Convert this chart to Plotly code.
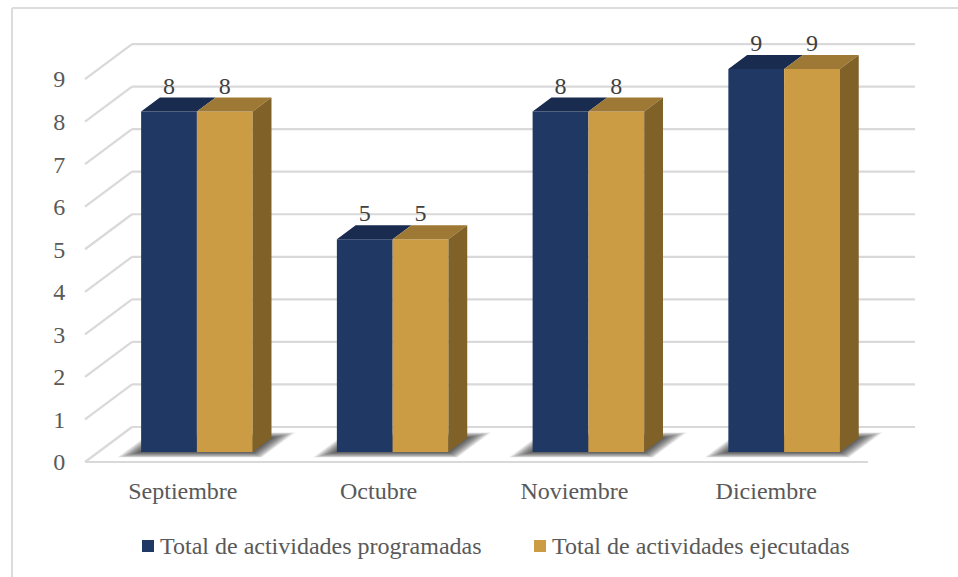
import plotly.graph_objects as go

# data
meses = ["Septiembre", "Octubre", "Noviembre", "Diciembre"]
programadas = [8, 5, 8, 9]
ejecutadas = [8, 5, 8, 9]
y_ticks = [0, 1, 2, 3, 4, 5, 6, 7, 8, 9]
mes_ticks = [0.5, 1.5, 2.5, 3.48]

WIDTH, HEIGHT = 958, 577
FONT = "Liberation Serif"
FONT_SIZE = 24
GRID = "#d9d9d9"
TEXT = "#595959"

# pixels per axis unit, and where the front left floor corner sits
X_UNIT, Y_UNIT = 195.75, 42.55
X0_PX, Y0_PX = 85, 462
PLOT_L, AXIS_PX = 72, 467

# oblique projection: depth 0 = front of the floor, depth 1 = back wall
DEPTH_X = 47 / X_UNIT
DEPTH_Y = 35 / Y_UNIT
BAR_D0, BAR_D1 = 0.286, 0.686
BAR_W = 0.285
BAR_START = 0.218
LABEL_DROP = 2 / Y_UNIT


def proj(x, y, d):
    return x + d * DEPTH_X, y + d * DEPTH_Y


def path(points):
    return "M " + " L ".join(f"{x:.4f},{y:.4f}" for x, y in points) + " Z"


def px_x(px):
    return (px - PLOT_L) / (WIDTH - PLOT_L)


def px_y(px):
    return 1 - px / HEIGHT


n = len(meses)
shapes = []

# chart border, only left and top are drawn in the source
border = dict(type="line", xref="paper", yref="paper", line=dict(color="#dcdcdc", width=2), layer="below")
shapes.append(dict(border, x0=px_x(12), x1=px_x(12), y0=0, y1=px_y(8)))
shapes.append(dict(border, x0=px_x(12), x1=1, y0=px_y(8), y1=px_y(8)))

# gridlines: back wall + side wall + floor front
grid_line = dict(color=GRID, width=2.2)
for t in y_ticks:
    bx0, by0 = proj(0, t, 1)
    bx1, by1 = proj(n, t, 1)
    shapes.append(dict(type="line", x0=bx0, x1=bx1, y0=by0, y1=by1, line=grid_line, layer="below"))
    shapes.append(dict(type="line", x0=0, x1=bx0, y0=t, y1=by0, line=grid_line, layer="below"))
shapes.append(dict(type="line", x0=0, x1=n, y0=0, y1=0, line=grid_line, layer="below"))

# soft shadow on the floor, stacked translucent parallelograms
LAYERS = 24
for i in range(n):
    left = i + BAR_START
    right = left + 2 * BAR_W
    for k in range(LAYERS):
        f = (LAYERS - k) / LAYERS
        g = 0.085 * f
        e = 0.16 * f
        corners = [proj(left - g, 0, BAR_D0 - e), proj(right + g, 0, BAR_D0 - e),
                   proj(right + g, 0, BAR_D1 + e), proj(left - g, 0, BAR_D1 + e)]
        shapes.append(dict(type="path", path=path(corners), fillcolor="rgba(20,20,20,0.045)",
                           line=dict(width=0), layer="below"))

fig = go.Figure()

series = [
    ("Total de actividades programadas", programadas, 0, "#1f3864", "#192b4f", 142),
    ("Total de actividades ejecutadas", ejecutadas, 1, "#cc9c45", "#9e7835", 534),
]

annotations = []

for name, values, pos, front, top, legend_px in series:
    xs = [i + BAR_START + pos * BAR_W + BAR_W / 2 + BAR_D0 * DEPTH_X for i in range(n)]
    fig.add_trace(go.Bar(
        x=xs, y=values, base=BAR_D0 * DEPTH_Y, width=BAR_W, name=name,
        marker=dict(color=front, line=dict(width=0)),
        hoverinfo="y",
    ))

    # top faces of the boxes
    tx, ty = [], []
    for i, v in enumerate(values):
        left = i + BAR_START + pos * BAR_W
        right = left + BAR_W
        for p in [proj(left, v, BAR_D0), proj(right, v, BAR_D0), proj(right, v, BAR_D1), proj(left, v, BAR_D1)]:
            tx.append(p[0])
            ty.append(p[1])
        tx.append(None)
        ty.append(None)
    fig.add_trace(go.Scatter(x=tx, y=ty, mode="lines", fill="toself", fillcolor=top,
                             line=dict(width=0), hoverinfo="skip", showlegend=False))

    # value labels above the top face
    lx = [proj(i + BAR_START + pos * BAR_W + BAR_W / 2, 0, BAR_D0)[0] for i in range(n)]
    ly = [proj(0, v, BAR_D1)[1] - LABEL_DROP for v in values]
    fig.add_trace(go.Scatter(x=lx, y=ly, mode="text", text=[str(v) for v in values],
                             textposition="top center", hoverinfo="skip", showlegend=False,
                             textfont=dict(family=FONT, size=FONT_SIZE, color="#404040")))

    # legend entry: the native one can't get the swatch this close to the text
    shapes.append(dict(type="rect", xref="paper", yref="paper", x0=px_x(legend_px), x1=px_x(legend_px + 12),
                       y0=px_y(552), y1=px_y(540), fillcolor=front, line=dict(width=0), layer="above"))
    annotations.append(dict(text=name, xref="paper", yref="paper", x=px_x(legend_px + 16), y=px_y(546),
                            xanchor="left", yanchor="middle", showarrow=False,
                            font=dict(family=FONT, size=FONT_SIZE, color=TEXT)))

# right side faces (only the second series shows one)
sx, sy = [], []
for i, v in enumerate(ejecutadas):
    right = i + BAR_START + 2 * BAR_W
    for p in [proj(right, 0, BAR_D0), proj(right, v, BAR_D0), proj(right, v, BAR_D1), proj(right, 0, BAR_D1)]:
        sx.append(p[0])
        sy.append(p[1])
    sx.append(None)
    sy.append(None)
fig.add_trace(go.Scatter(x=sx, y=sy, mode="lines", fill="toself", fillcolor="#806229",
                         line=dict(width=0), hoverinfo="skip", showlegend=False))

fig.update_layout(
    width=WIDTH, height=HEIGHT,
    barmode="overlay",
    paper_bgcolor="white", plot_bgcolor="white",
    margin=dict(l=PLOT_L, r=0, t=0, b=0, pad=0),
    font=dict(family=FONT, size=FONT_SIZE, color=TEXT),
    shapes=shapes,
    annotations=annotations,
    showlegend=False,
    xaxis=dict(range=[(PLOT_L - X0_PX) / X_UNIT, (WIDTH - X0_PX) / X_UNIT],
               anchor="free", position=px_y(AXIS_PX),
               tickvals=mes_ticks, ticktext=meses,
               showgrid=False, zeroline=False, showline=False,
               ticks="outside", ticklen=2, tickcolor="rgba(0,0,0,0)",
               tickfont=dict(family=FONT, size=FONT_SIZE, color=TEXT)),
    yaxis=dict(range=[(Y0_PX - HEIGHT) / Y_UNIT, Y0_PX / Y_UNIT],
               tickvals=y_ticks, showgrid=False, zeroline=False, showline=False,
               ticks="outside", ticklen=1, tickcolor="rgba(0,0,0,0)",
               tickfont=dict(family=FONT, size=FONT_SIZE, color=TEXT)),
)

# the page's default body margin would shift the whole chart
fig.write_html("out.html", config=dict(displayModeBar=False),
               post_script="document.body.style.margin = '0';")
